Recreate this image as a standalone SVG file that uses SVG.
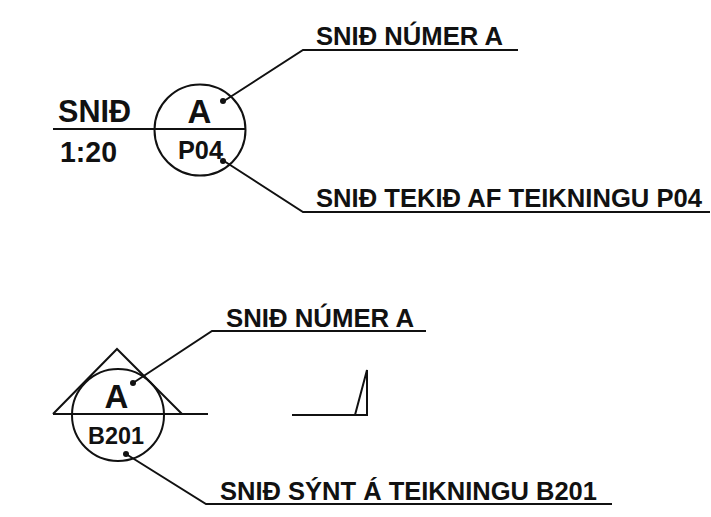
<svg xmlns="http://www.w3.org/2000/svg" width="711" height="517" viewBox="0 0 711 517">
<style>
.l{fill:none;stroke:#111;stroke-width:2}
.d{fill:#111}
.t{font-family:"Liberation Sans",Arial,sans-serif;font-weight:bold;fill:#111}
.s{font-size:26px}
.c{text-anchor:middle}
</style>
<rect width="711" height="517" fill="#fff"/>
<g id="connectors">
<path class="l" d="M224 101L303 50H518"/>
<path class="l" d="M224 161L303 212H710"/>
<path class="l" d="M133 383L212 331H426"/>
<path class="l" d="M126 454L206 504H612"/>
<path class="l" d="M53 129H155"/>
<path class="l" d="M292 415H355L367 370V415H355"/>
</g>
<g id="section-circle-a">
<circle class="l" cx="200" cy="130" r="45.5"/>
<path class="l" d="M155 129H246"/>
<text class="t c" x="199.500" y="123" font-size="33">A</text>
<text class="t" x="178" y="159" font-size="26" textLength="45" lengthAdjust="spacingAndGlyphs">P04</text>
<circle class="d" cx="223" cy="101" r="3"/>
<circle class="d" cx="223" cy="161" r="3"/>
</g>
<g id="section-circle-b">
<path class="l" d="M53 414L117 349L182 414"/>
<path class="l" d="M53 414H208"/>
<circle class="l" cx="118" cy="415" r="46"/>
<text class="t c" x="116.500" y="408" font-size="33">A</text>
<text class="t" x="88" y="444" font-size="24" textLength="56" lengthAdjust="spacingAndGlyphs">B201</text>
<circle class="d" cx="133" cy="383" r="3"/>
<circle class="d" cx="126" cy="454" r="3"/>
</g>
<g id="labels">
<text class="t" x="58" y="122" font-size="31" textLength="73" lengthAdjust="spacingAndGlyphs">SNIÐ</text>
<text class="t" x="60" y="162" font-size="30" textLength="57" lengthAdjust="spacingAndGlyphs">1:20</text>
<text class="t s" x="316" y="45" textLength="187" lengthAdjust="spacingAndGlyphs">SNIÐ NÚMER A</text>
<text class="t s" x="316" y="207" textLength="386" lengthAdjust="spacingAndGlyphs">SNIÐ TEKIÐ AF TEIKNINGU P04</text>
<text class="t s" x="226" y="327" textLength="188" lengthAdjust="spacingAndGlyphs">SNIÐ NÚMER A</text>
<text class="t s" x="220" y="500" textLength="377" lengthAdjust="spacingAndGlyphs">SNIÐ SÝNT Á TEIKNINGU B201</text>
</g>
</svg>
